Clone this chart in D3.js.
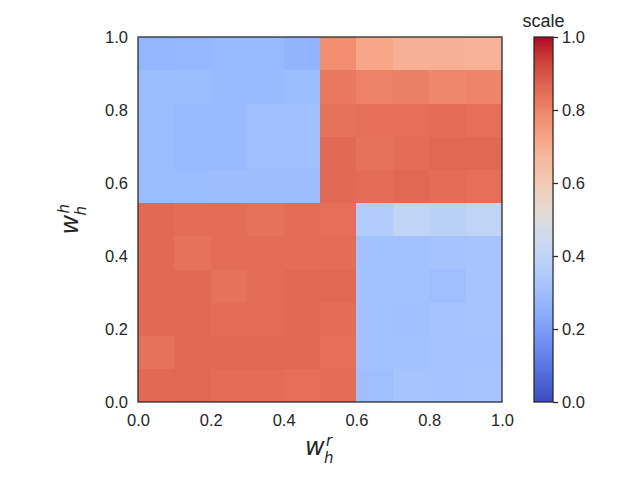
<!DOCTYPE html>
<html><head><meta charset="utf-8">
<script src="https://cdn.jsdelivr.net/npm/d3@7/dist/d3.min.js"></script>
<style>body{margin:0;background:#fff}svg{display:block}</style>
</head><body>
<svg id="chart" width="640" height="480"></svg>
<script>
// Tick labels
const xTicks = [0, 0.2, 0.4, 0.6, 0.8, 1.0];
const yTicks = [0, 0.2, 0.4, 0.6, 0.8, 1.0];
const cbTicks = [0, 0.2, 0.4, 0.6, 0.8, 1.0];
// Grid: 10 columns (x) by 11 rows (y); rows listed from bottom (y=0) to top (y=1)
const nCols = 10;
const nRows = 11;
const row0  = [0.855,0.86,0.85,0.85,0.845,0.85, 0.30,0.32,0.315,0.32];
const row1  = [0.84,0.855,0.86,0.86,0.86,0.845, 0.31,0.31,0.315,0.315];
const row2  = [0.855,0.855,0.85,0.85,0.855,0.85, 0.31,0.305,0.315,0.32];
const row3  = [0.855,0.855,0.84,0.85,0.855,0.86, 0.31,0.31,0.30,0.32];
const row4  = [0.855,0.84,0.85,0.85,0.85,0.85, 0.31,0.31,0.315,0.32];
const row5  = [0.855,0.85,0.85,0.84,0.85,0.845, 0.355,0.40,0.385,0.40];
const row6  = [0.29,0.29,0.295,0.295,0.295, 0.855,0.85,0.86,0.85,0.845];
const row7  = [0.29,0.285,0.285,0.30,0.30, 0.855,0.84,0.85,0.86,0.86];
const row8  = [0.29,0.285,0.285,0.30,0.30, 0.84,0.845,0.845,0.85,0.845];
const row9  = [0.29,0.29,0.285,0.285,0.29, 0.825,0.805,0.81,0.795,0.80];
const row10 = [0.27,0.275,0.28,0.28,0.265, 0.78,0.72,0.69,0.69,0.685];
const rows = [row0,row1,row2,row3,row4,row5,row6,row7,row8,row9,row10];

// coolwarm (Moreland) control points
const cwStops = [
[59,76,192],[68,90,204],[77,104,215],[87,117,225],[98,130,234],[108,142,241],[119,154,247],[130,165,251],
[141,176,254],[152,185,255],[163,194,255],[174,201,253],[184,208,249],[194,213,244],[204,217,238],[213,219,230],
[221,221,221],[229,216,209],[236,211,197],[241,204,184],[245,196,172],[247,187,160],[247,177,148],[247,166,135],
[244,154,123],[241,141,111],[236,127,99],[229,112,88],[222,96,77],[213,80,66],[203,62,56],[192,40,47],[180,4,38]];
const color = d3.scaleLinear()
  .domain(cwStops.map((d,i)=>i/(cwStops.length-1)))
  .range(cwStops.map(c=>`rgb(${c[0]},${c[1]},${c[2]})`))
  .interpolate(d3.interpolateRgb)
  .clamp(true);

const svg = d3.select("#chart");
const L = 138, R = 502, T = 37, B = 402;
const x = d3.scaleLinear().domain([0,1]).range([L,R]);
const y = d3.scaleLinear().domain([0,1]).range([B,T]);
const tickFont = "'Liberation Sans', Arial, sans-serif";
const ink = "#262626";

// cells
const cells = [];
rows.forEach((r,ri)=>r.forEach((v,ci)=>cells.push({ri,ci,v})));
svg.append("g").selectAll("rect").data(cells).join("rect")
  .attr("x", d=>x(d.ci/nCols))
  .attr("y", d=>y((d.ri+1)/nRows))
  .attr("width", d=>x((d.ci+1)/nCols)-x(d.ci/nCols)+0.3)
  .attr("height", d=>y(d.ri/nRows)-y((d.ri+1)/nRows)+0.3)
  .attr("fill", d=>color(d.v))
  .attr("shape-rendering","crispEdges");

// frame
svg.append("rect").attr("x",L).attr("y",T).attr("width",R-L).attr("height",B-T)
  .attr("fill","none").attr("stroke",ink).attr("stroke-width",1.25);

// axes (no tick marks, seaborn white style)
const xAxis = svg.append("g").attr("transform",`translate(0,${B})`)
  .call(d3.axisBottom(x).tickValues(xTicks).tickFormat(d3.format(".1f")).tickSize(0).tickPadding(12));
const yAxis = svg.append("g").attr("transform",`translate(${L},0)`)
  .call(d3.axisLeft(y).tickValues(yTicks).tickFormat(d3.format(".1f")).tickSize(0).tickPadding(10));
[xAxis,yAxis].forEach(g=>{
  g.select(".domain").remove();
  g.selectAll("text").attr("font-family",tickFont).attr("font-size",16.5).attr("fill",ink);
});

// math labels
function mathLabel(g, base, sup, sub){
  const f = "'DejaVu Sans', sans-serif";
  g.append("text").attr("x",-15).attr("y",0).attr("font-family",f).attr("font-style","italic")
    .attr("font-size",24).attr("fill",ink).text(base);
  g.append("text").attr("x",6).attr("y",-9).attr("font-family",f).attr("font-style","italic")
    .attr("font-size",15).attr("fill",ink).text(sup);
  g.append("text").attr("x",4).attr("y",8).attr("font-family",f).attr("font-style","italic")
    .attr("font-size",15).attr("fill",ink).text(sub);
}
mathLabel(svg.append("g").attr("transform",`translate(${(L+R)/2},455)`), "w","r","h");
mathLabel(svg.append("g").attr("transform",`translate(78,${(T+B)/2}) rotate(-90)`), "w","h","h");

// colorbar
const cbL = 534, cbW = 19;
const cy = d3.scaleLinear().domain([0,1]).range([B,T]);
const defs = svg.append("defs");
const grad = defs.append("linearGradient").attr("id","cw").attr("x1",0).attr("y1",1).attr("x2",0).attr("y2",0);
d3.range(0,1.0001,0.02).forEach(t=>grad.append("stop").attr("offset",t).attr("stop-color",color(t)));
svg.append("rect").attr("x",cbL).attr("y",T).attr("width",cbW).attr("height",B-T).attr("fill","url(#cw)");
svg.append("rect").attr("x",cbL).attr("y",T).attr("width",cbW).attr("height",B-T)
  .attr("fill","none").attr("stroke",ink).attr("stroke-width",1.25);
const cbAxis = svg.append("g").attr("transform",`translate(${cbL+cbW},0)`)
  .call(d3.axisRight(cy).tickValues(cbTicks).tickFormat(d3.format(".1f")).tickSize(5).tickPadding(4));
cbAxis.select(".domain").remove();
cbAxis.selectAll("line").attr("stroke",ink).attr("stroke-width",1.25);
cbAxis.selectAll("text").attr("font-family",tickFont).attr("font-size",16.5).attr("fill",ink);
svg.append("text").attr("x",cbL+cbW/2).attr("y",T-10).attr("text-anchor","middle")
  .attr("font-family",tickFont).attr("font-size",18).attr("fill",ink).text("scale");
</script>
</body></html>
